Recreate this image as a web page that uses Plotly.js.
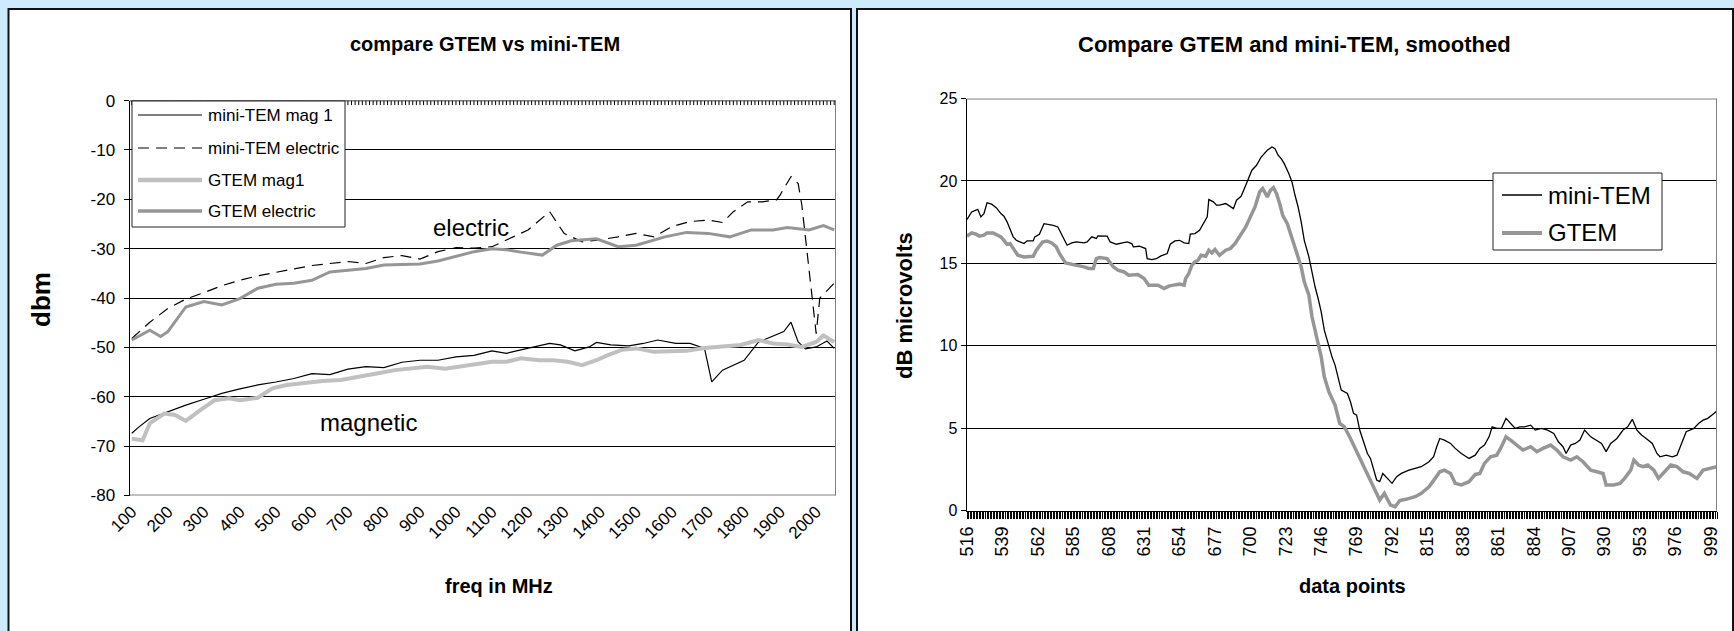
<!DOCTYPE html>
<html>
<head>
<meta charset="utf-8">
<script src="https://cdn.plot.ly/plotly-3.0.1.min.js"></script>
<style>
  html, body { margin: 0; padding: 0; background: #cdebfd; }
  #chart { width: 1734px; height: 631px; }
</style>
</head>
<body>
<div id="chart"></div>
<script>
// ---- left chart: field strength vs frequency (dBm) ----
const miniMagFreq = [100,120,150,200,250,300,350,400,450,500,550,600,650,700,750,800,850,900,950,1000,1050,1100,1140,1180,1220,1260,1290,1330,1370,1390,1430,1480,1520,1560,1610,1650,1690,1710,1740,1770,1800,1840,1890,1910,1930,1950,1970,2000,2030,2050];
const miniMag = [-67.4,-66.1,-64.4,-63.0,-61.7,-60.5,-59.3,-58.4,-57.6,-57.0,-56.3,-55.3,-55.5,-54.4,-53.9,-54.1,-53.0,-52.6,-52.6,-51.9,-51.6,-50.7,-51.2,-50.5,-49.9,-49.2,-49.5,-50.7,-49.9,-49.0,-49.5,-49.7,-49.2,-48.5,-49.2,-49.2,-50.2,-57.0,-54.6,-53.6,-52.6,-48.9,-47.5,-46.8,-44.9,-48.9,-50.3,-49.9,-48.7,-50.2];

const miniElecFreq = [100,150,200,250,300,350,400,450,500,550,600,650,700,750,800,850,900,950,1000,1050,1100,1150,1200,1260,1300,1350,1400,1450,1500,1550,1600,1650,1700,1740,1770,1810,1850,1890,1900,1930,1950,1960,1980,2000,2010,2050];
const miniElec = [-48.2,-44.9,-42.1,-40.2,-38.9,-37.5,-36.4,-35.5,-34.8,-34.1,-33.4,-33.0,-32.6,-33.0,-31.8,-31.4,-32.1,-30.6,-29.8,-29.9,-29.6,-27.9,-26.2,-22.5,-26.9,-28.6,-28.2,-27.6,-26.9,-27.6,-25.5,-24.5,-24.2,-24.7,-22.5,-20.5,-20.5,-20.1,-19.1,-15.4,-16.8,-21.1,-34.0,-47.2,-40.0,-37.0];

const gtemMagFreq = [100,130,150,190,220,250,290,330,370,400,450,490,530,580,630,680,740,780,830,880,920,970,1020,1060,1100,1140,1180,1230,1270,1310,1350,1390,1420,1460,1500,1550,1600,1640,1690,1740,1790,1840,1880,1920,1960,2000,2020,2050];
const gtemMag = [-68.5,-68.8,-65.4,-63.4,-63.7,-64.9,-62.7,-60.7,-60.3,-60.7,-60.2,-58.3,-57.6,-57.1,-56.8,-56.6,-55.7,-55.3,-54.6,-54.1,-53.9,-54.3,-53.7,-53.4,-52.9,-52.9,-52.2,-52.6,-52.6,-52.9,-53.6,-52.6,-51.6,-50.5,-50.2,-50.9,-50.9,-50.7,-50.1,-49.9,-49.5,-48.5,-49.2,-49.4,-49.9,-48.9,-47.6,-48.9];

const gtemElecFreq = [100,150,180,200,250,300,350,400,450,500,550,600,650,700,750,800,850,900,950,1000,1050,1100,1140,1180,1240,1280,1320,1390,1450,1500,1580,1640,1700,1760,1820,1880,1920,1980,2020,2050];
const gtemElec = [-48.5,-46.5,-47.8,-46.8,-41.8,-40.7,-41.4,-40.1,-38.0,-37.2,-37.0,-36.4,-34.7,-34.3,-34.0,-33.3,-33.2,-33.1,-32.5,-31.6,-30.6,-30.0,-30.2,-30.7,-31.3,-29.3,-28.4,-28.0,-29.6,-29.3,-27.6,-26.7,-26.9,-27.6,-26.2,-26.2,-25.7,-26.2,-25.3,-26.2];

const freqTicks = [100,200,300,400,500,600,700,800,900,1000,1100,1200,1300,1400,1500,1600,1700,1800,1900,2000];
const freqStep = 10;          // one category every 10 MHz
const dbmTicks = [0,-10,-20,-30,-40,-50,-60,-70,-80];

// ---- right chart: smoothed level vs data point (dB microvolts) ----
const miniTemIdx = [516,519,523,525,527,529,532,535,538,540,542,544,546,548,550,553,555,559,560,563,566,569,572,575,578,581,584,587,592,594,597,600,601,607,609,613,617,620,623,624,628,632,633,636,639,642,646,648,651,654,657,660,661,664,667,670,672,673,676,678,
  680,684,687,689,691,694,697,699,701,704,707,711,714,716,718,720,722,725,727,729,731,733,735,738,740,742,744,746,748,751,753,755,757,759,763,765,767,769,771,773,776,778,780,782,784,786,789,792,795,798,803,807,811,816,819,821,823,826,830,833,837,842,
  846,849,852,855,857,860,863,866,869,872,875,878,882,885,889,893,897,900,903,905,908,911,914,917,921,925,928,931,934,938,942,945,948,951,954,957,961,964,966,970,974,977,980,983,988,991,994,997,1001,1003];
const miniTem = [17.66,18.12,18.28,17.82,18.02,18.67,18.59,18.38,18.02,17.86,17.52,17.11,16.61,16.40,16.30,16.20,16.36,16.36,16.61,16.77,17.41,17.37,17.31,17.21,16.61,16.10,16.24,16.30,16.24,16.30,16.61,16.51,16.67,16.65,16.30,16.16,16.24,16.30,16.20,16.00,16.04,15.90,15.29,15.23,15.29,15.45,15.60,16.16,16.36,16.40,16.24,16.20,16.77,16.81,17.01,17.52,17.82,18.87,18.73,18.53,
  18.53,18.63,18.42,18.32,18.83,19.07,19.74,20.20,20.65,20.95,21.45,21.86,22.06,21.96,21.56,21.35,21.05,20.44,19.94,19.13,18.42,17.52,16.40,15.39,14.38,13.58,12.87,12.06,10.95,9.94,9.33,8.83,8.12,7.31,7.11,6.61,5.90,5.80,4.89,4.28,3.47,3.17,2.46,1.86,1.76,2.26,1.96,1.66,2.06,2.26,2.46,2.57,2.67,2.97,3.27,3.88,4.38,4.28,4.08,3.78,3.47,3.17,
  3.37,3.78,3.98,4.48,5.09,4.99,4.99,5.60,5.29,4.99,5.09,5.09,5.19,4.89,4.99,4.89,4.69,4.18,3.88,3.47,3.98,4.08,4.28,4.89,4.48,4.28,4.08,3.58,4.08,4.38,4.89,5.09,5.54,4.89,4.59,4.38,4.08,3.47,3.27,3.37,3.27,3.37,4.08,4.79,4.99,5.29,5.49,5.60,5.90,6.06];

const gtemIdx = [516,519,522,524,527,529,533,535,538,540,542,544,546,549,553,557,559,561,565,568,571,574,576,580,584,588,592,595,598,600,602,607,609,611,614,618,621,624,627,631,634,637,640,644,647,650,654,657,658,660,662,664,666,668,671,673,675,677,
  680,684,687,690,693,697,700,703,706,708,711,713,715,717,719,721,724,726,728,731,733,735,738,740,742,744,746,748,751,753,755,758,761,765,768,771,774,778,781,784,787,791,794,797,801,807,811,816,820,823,826,830,833,837,842,
  846,849,852,856,860,863,866,869,873,877,882,886,890,895,899,903,908,912,916,921,925,929,931,936,940,943,947,949,952,955,958,962,965,968,973,977,981,985,990,994,998,1003];
const gtem = [16.65,16.85,16.77,16.65,16.71,16.85,16.85,16.77,16.61,16.40,16.16,16.20,15.90,15.49,15.39,15.39,15.43,15.80,16.30,16.36,16.24,16.00,15.60,15.03,14.95,14.89,14.79,14.69,14.69,15.29,15.35,15.29,14.99,14.79,14.59,14.48,14.28,14.28,14.32,14.08,13.68,13.68,13.68,13.47,13.62,13.68,13.74,13.68,14.08,14.38,14.89,15.09,15.19,15.49,15.43,15.80,15.64,15.84,
  15.49,15.80,15.90,16.20,16.61,17.21,17.82,18.42,19.33,19.54,19.03,19.43,19.60,19.23,18.63,17.92,17.41,16.81,16.20,15.39,14.79,13.88,13.07,11.76,10.95,10.14,9.33,8.12,7.21,6.81,6.40,5.29,5.09,4.38,3.78,3.27,2.67,1.86,1.25,0.65,1.05,0.34,0.24,0.61,0.69,0.85,1.05,1.45,1.96,2.36,2.46,2.26,1.66,1.56,1.76,
  2.20,2.26,2.87,3.27,3.37,3.88,4.48,4.28,3.98,3.68,3.88,3.58,3.78,3.98,3.68,3.27,3.07,3.27,2.97,2.46,2.36,2.26,1.56,1.56,1.66,1.96,2.46,3.07,2.77,2.67,2.77,2.46,1.96,2.26,2.77,2.67,2.36,2.26,1.96,2.46,2.57,2.67];

const pointTickStart = 516;
const pointTickStep = 23;

// ---- page geometry (pixels) ----
const W = 1734, H = 631;
const px = x => x / W;
const py = y => 1 - y / H;
const FONT = 'Liberation Sans, Arial, sans-serif';

const L = { x0: 130, x1: 836, y0: 100.6, y1: 495.5 };   // left plot area
const R = { x0: 967, x1: 1717, y0: 98.5, y1: 510.7 };   // right plot area

const freqRange = [95, 2055];
const dbmRange = [-80, 0];
const pointRange = [516, 1003];

// tick row of the frequency category axis, which crosses the value axis at 0 dBm (top edge)
const catTickLen = 4.5 * (dbmRange[1] - dbmRange[0]) / (L.y1 - L.y0);   // 4.5 px in dBm units
let catTickPath = '';
for (let f = freqTicks[0]; f <= freqRange[1]; f += freqStep) {
  catTickPath += 'M' + f + ',' + dbmRange[1] + 'L' + f + ',' + (dbmRange[1] - catTickLen);
}

const traces = [
  { x: miniMagFreq, y: miniMag, name: 'mini-TEM mag 1', type: 'scatter', mode: 'lines',
    line: { color: '#000000', width: 1.2 }, xaxis: 'x', yaxis: 'y' },
  { x: miniElecFreq, y: miniElec, name: 'mini-TEM electric', type: 'scatter', mode: 'lines',
    line: { color: '#000000', width: 1.2, dash: '11px,7px' }, xaxis: 'x', yaxis: 'y' },
  { x: gtemMagFreq, y: gtemMag, name: 'GTEM mag1', type: 'scatter', mode: 'lines',
    line: { color: '#c0c0c0', width: 4 }, xaxis: 'x', yaxis: 'y' },
  { x: gtemElecFreq, y: gtemElec, name: 'GTEM electric', type: 'scatter', mode: 'lines',
    line: { color: '#969696', width: 3 }, xaxis: 'x', yaxis: 'y' },
  { x: miniTemIdx, y: miniTem, name: 'mini-TEM', type: 'scatter', mode: 'lines',
    line: { color: '#000000', width: 1.3 }, xaxis: 'x2', yaxis: 'y2' },
  { x: gtemIdx, y: gtem, name: 'GTEM', type: 'scatter', mode: 'lines',
    line: { color: '#969696', width: 3.5 }, xaxis: 'x2', yaxis: 'y2' }
];

const shapes = [
  // white chart panels
  { type: 'rect', xref: 'paper', yref: 'paper', x0: px(8.5), x1: px(851), y0: py(9), y1: py(645),
    fillcolor: '#ffffff', line: { color: '#111111', width: 2 }, layer: 'below' },
  { type: 'rect', xref: 'paper', yref: 'paper', x0: px(857), x1: px(1733), y0: py(9), y1: py(645),
    fillcolor: '#ffffff', line: { color: '#111111', width: 2 }, layer: 'below' },
  // category tick row along the 0 dBm line
  { type: 'path', xref: 'x', yref: 'y', path: catTickPath,
    line: { color: '#000000', width: 1 }, layer: 'above' },
  { type: 'line', xref: 'x', yref: 'y', x0: freqRange[0], x1: freqRange[1], y0: 0, y1: 0,
    line: { color: '#000000', width: 1.2 }, layer: 'above' },
  // plot-area frame (grey sides)
  { type: 'line', xref: 'x', yref: 'y', x0: freqRange[1], x1: freqRange[1], y0: -80, y1: 0,
    line: { color: '#808080', width: 2 } },
  { type: 'line', xref: 'x', yref: 'y', x0: freqRange[0], x1: freqRange[1], y0: -80, y1: -80,
    line: { color: '#808080', width: 2 } },
  { type: 'line', xref: 'x2', yref: 'y2', x0: pointRange[0], x1: pointRange[1], y0: 25, y1: 25,
    line: { color: '#808080', width: 2 } },
  { type: 'line', xref: 'x2', yref: 'y2', x0: pointRange[1], x1: pointRange[1], y0: 0, y1: 25,
    line: { color: '#808080', width: 2 } }
];

const annotations = [];
function label(text, x, y, size, opts) {
  annotations.push(Object.assign({
    text: text, x: px(x), y: py(y), xref: 'paper', yref: 'paper', showarrow: false,
    xanchor: 'center', yanchor: 'middle', font: { family: FONT, size: size, color: '#000' }
  }, opts || {}));
}

// titles
label('<b>compare GTEM vs mini-TEM</b>', 485, 44, 20);
label('<b>Compare GTEM and mini-TEM, smoothed</b>', 1294, 44, 22);
label('<b>dbm</b>', 41, 300, 26, { textangle: -90 });
label('<b>freq in MHz</b>', 499, 586, 20);
label('<b>dB microvolts</b>', 904, 305, 22, { textangle: -90 });
label('<b>data points</b>', 1352, 586, 20);

// curve group labels
annotations.push({ text: 'electric', x: 1042, y: -25.8, xref: 'x', yref: 'y', showarrow: false,
  font: { family: FONT, size: 24, color: '#000' } });
annotations.push({ text: 'magnetic', x: 758, y: -65.2, xref: 'x', yref: 'y', showarrow: false,
  font: { family: FONT, size: 24, color: '#000' } });

// legend boxes drawn as shapes + text
function legendBox(x0, y0, x1, y1) {
  shapes.push({ type: 'rect', xref: 'paper', yref: 'paper', x0: px(x0), x1: px(x1), y0: py(y0), y1: py(y1),
    fillcolor: '#ffffff', line: { color: '#222222', width: 1 }, layer: 'above' });
}
function legendItem(trace, lx0, lx1, y, tx, size) {
  shapes.push({ type: 'line', xref: 'paper', yref: 'paper', x0: px(lx0), x1: px(lx1), y0: py(y), y1: py(y),
    line: { color: trace.line.color, width: trace.line.width + (trace.line.width > 2 ? 0.5 : 0), dash: trace.line.dash || 'solid' },
    layer: 'above' });
  label(trace.name, tx, y, size, { xanchor: 'left' });
}
legendBox(132, 101, 345, 227);
legendItem(traces[0], 138, 202, 115, 206, 17);
legendItem(traces[1], 138, 202, 148, 206, 17);
legendItem(traces[2], 138, 202, 180, 206, 17);
legendItem(traces[3], 138, 202, 211, 206, 17);
legendBox(1493, 173, 1662, 250);
legendItem(traces[4], 1502, 1542, 195, 1546, 24);
legendItem(traces[5], 1502, 1542, 233, 1546, 24);

const layout = {
  width: W, height: H,
  margin: { l: 0, r: 0, t: 0, b: 0, pad: 0 },
  paper_bgcolor: '#cdebfd',
  plot_bgcolor: 'rgba(0,0,0,0)',
  showlegend: false,
  xaxis: {
    domain: [px(L.x0), px(L.x1)], anchor: 'y', range: freqRange,
    tickmode: 'array', tickvals: freqTicks, ticktext: freqTicks.map(String),
    tickangle: -45, ticks: '', showline: false,
    showgrid: false, zeroline: false, ticklabelstandoff: 2,
    tickfont: { family: FONT, size: 17, color: '#000' }
  },
  yaxis: {
    domain: [py(L.y1), py(L.y0)], anchor: 'x', range: dbmRange,
    tickmode: 'array', tickvals: dbmTicks, ticktext: dbmTicks.map(String),
    ticks: 'outside', ticklen: 5, tickcolor: '#000', ticklabelstandoff: 5,
    showline: true, linecolor: '#000', linewidth: 1.5,
    showgrid: true, gridcolor: '#000', gridwidth: 1, zeroline: false,
    tickfont: { family: FONT, size: 17, color: '#000' }
  },
  xaxis2: {
    domain: [px(R.x0), px(R.x1)], anchor: 'y2', range: pointRange,
    tick0: pointTickStart, dtick: pointTickStep, tickangle: -90,
    ticks: 'outside', ticklen: 7, tickwidth: 1, tickcolor: '#000',
    minor: { dtick: 1, tick0: pointTickStart, ticks: 'outside', ticklen: 7, tickwidth: 1, tickcolor: '#000', showgrid: false },
    showline: true, linecolor: '#000', linewidth: 1.5,
    showgrid: false, zeroline: false, tickfont: { family: FONT, size: 18, color: '#000' }
  },
  yaxis2: {
    domain: [py(R.y1), py(R.y0)], anchor: 'x2', range: [0, 25],
    dtick: 5, ticks: 'outside', ticklen: 5, tickcolor: '#000',
    showline: true, linecolor: '#000', linewidth: 1.5,
    showgrid: true, gridcolor: '#000', gridwidth: 1, zeroline: false,
    tickfont: { family: FONT, size: 16, color: '#000' }
  },
  shapes: shapes,
  annotations: annotations
};

Plotly.newPlot('chart', traces, layout, { staticPlot: true, displayModeBar: false });
</script>
</body>
</html>
